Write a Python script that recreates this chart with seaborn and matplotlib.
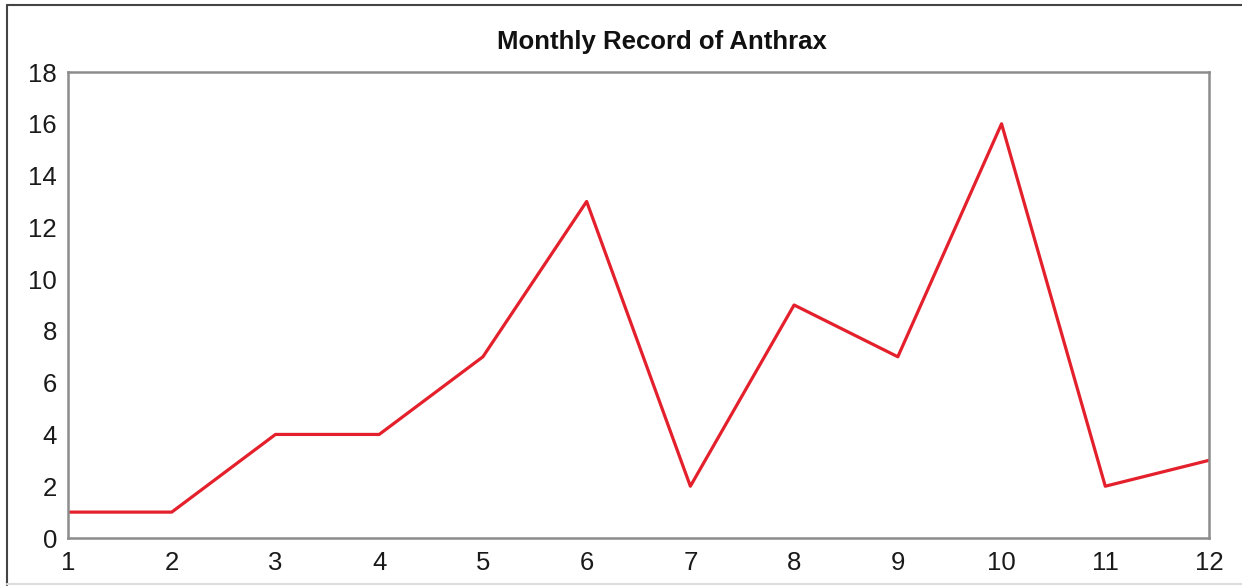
import pandas as pd
import matplotlib.pyplot as plt
import seaborn as sns
from matplotlib.lines import Line2D

# données
months = [1, 2, 3, 4, 5, 6, 7, 8, 9, 10, 11, 12]
cases = [1, 1, 4, 4, 7, 13, 2, 9, 7, 16, 2, 3]
y_ticks = [0, 2, 4, 6, 8, 10, 12, 14, 16, 18]

df = pd.DataFrame({"month": months, "cases": cases})

sns.set_style("white")
plt.rcParams["font.family"] = ["Liberation Sans", "DejaVu Sans"]

fig = plt.figure(figsize=(12.42, 5.86), dpi=100)
ax = fig.add_axes([68 / 1242, 1 - 538 / 586, (1209 - 68) / 1242, (538 - 72) / 586])

sns.lineplot(data=df, x="month", y="cases", color="#e3202b", linewidth=2.3, ax=ax)

ax.set_xlim(1, 12)
ax.set_ylim(0, 18)
ax.set_xticks(months)
ax.set_yticks(y_ticks)
ax.set_xlabel("")
ax.set_ylabel("")
ax.tick_params(axis="both", labelsize=18.5, colors="#999999", labelcolor="#1a1a1a",
               length=3, width=1.2, direction="out", pad=5)
ax.tick_params(axis="x", pad=6)

for side in ["left", "bottom", "top", "right"]:
    ax.spines[side].set_visible(True)
    ax.spines[side].set_color("#8c8c8c")
    ax.spines[side].set_linewidth(1.8)

fig.text(662 / 1242, 1 - 42 / 586, "Monthly Record of Anthrax",
         ha="center", va="center", fontsize=18.5, fontweight="bold",
         color="#111111")

# cadre extérieur (haut et gauche foncés, bas clair)
fig.lines.append(Line2D([7 / 1242, 7 / 1242], [1 / 586, 1 - 5 / 586],
                        transform=fig.transFigure, color="#444444", linewidth=1.5))
fig.lines.append(Line2D([7 / 1242, 1], [1 - 5 / 586, 1 - 5 / 586],
                        transform=fig.transFigure, color="#444444", linewidth=1.5))
fig.lines.append(Line2D([7 / 1242, 1], [2 / 586, 2 / 586],
                        transform=fig.transFigure, color="#dddddd", linewidth=1.5))

fig.savefig("out.png", dpi=100)
